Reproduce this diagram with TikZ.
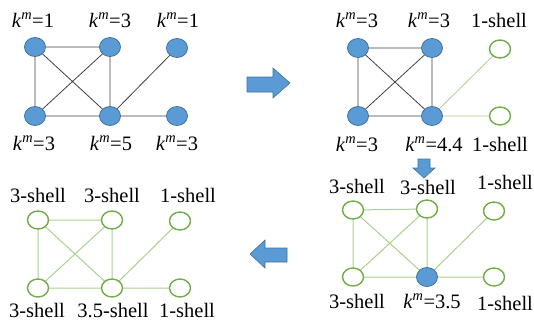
\documentclass[tikz,border=0pt]{standalone}
\usepackage{fontspec}
\usetikzlibrary{shapes.geometric}
\setmainfont{Liberation Serif}
\definecolor{nblue}{HTML}{5B9BD5}
\definecolor{nbluedark}{HTML}{41719C}
\definecolor{ngreen}{HTML}{70AD47}
\definecolor{egreen}{HTML}{A9D18E}
\definecolor{egray}{HTML}{404040}
\newcommand{\km}[1]{\textit{k}\textsuperscript{\textit{m}}=#1}
\begin{document}
\begin{tikzpicture}[x=1pt,y=-1pt,
  bnode/.style={ellipse,minimum width=21pt,minimum height=19pt,inner sep=0pt,fill=nblue,draw=nbluedark,line width=0.8pt},
  gnode/.style={ellipse,minimum width=21pt,minimum height=18pt,inner sep=0pt,fill=white,draw=ngreen,line width=1.4pt},
  lab/.style={font=\fontsize{20.5}{20.5}\selectfont,inner sep=0pt,anchor=base},
  gedge/.style={draw=egray,line width=0.8pt},
  ledge/.style={draw=egreen,line width=1pt},
  bigarrow/.style={fill=nblue,draw=nbluedark,line width=0.6pt}]
\useasboundingbox (0,0) rectangle (534,324);
% ---- Panel 1
\begin{scope}
\coordinate (a1) at (35,47); \coordinate (a2) at (110,47); \coordinate (a3) at (177,48);
\coordinate (a4) at (35,116); \coordinate (a5) at (110,116); \coordinate (a6) at (177,116);
\draw[gedge] (a1)--(a2) (a1)--(a4) (a1)--(a5) (a2)--(a4) (a2)--(a5) (a4)--(a5) (a5)--(a3) (a5)--(a6);
\node[bnode] (p1a) at (a1) {}; \node[bnode] (p1b) at (a2) {}; \node[bnode] (p1c) at (a3) {};
\node[bnode] (p1d) at (a4) {}; \node[bnode] (p1e) at (a5) {}; \node[bnode] (p1f) at (a6) {};
\node[lab] (l1a) at (33,27) {\km{1}};
\node[lab] (l1b) at (110,27) {\km{3}};
\node[lab] (l1c) at (178,27) {\km{1}};
\node[lab] (l1d) at (34,150) {\km{3}};
\node[lab] (l1e) at (111,150) {\km{5}};
\node[lab] (l1f) at (177,150) {\km{3}};
\end{scope}
% ---- Panel 2
\begin{scope}
\coordinate (b1) at (358,48); \coordinate (b2) at (432,48); \coordinate (b3) at (500,49);
\coordinate (b4) at (358,116); \coordinate (b5) at (432,116); \coordinate (b6) at (500,116);
\draw[gedge] (b1)--(b2) (b1)--(b4) (b1)--(b5) (b2)--(b4) (b2)--(b5) (b4)--(b5);
\draw[ledge,line width=0.8pt] (b5)--(b3) (b5)--(b6);
\node[bnode] (p2a) at (b1) {}; \node[bnode] (p2b) at (b2) {}; \node[gnode] (p2c) at (b3) {};
\node[bnode] (p2d) at (b4) {}; \node[bnode] (p2e) at (b5) {}; \node[gnode] (p2f) at (b6) {};
\node[lab] (l2a) at (357,27) {\km{3}};
\node[lab] (l2b) at (429,27) {\km{3}};
\node[lab] (l2c) at (499,27) {1-shell};
\node[lab] (l2d) at (357,151) {\km{3}};
\node[lab] (l2e) at (434,151) {\km{4.4}};
\node[lab] (l2f) at (500,151) {1-shell};
\end{scope}
% ---- Panel 3
\begin{scope}
\coordinate (c1) at (353,210); \coordinate (c2) at (427,209); \coordinate (c3) at (494,211);
\coordinate (c4) at (353,277); \coordinate (c5) at (427,277); \coordinate (c6) at (494,277);
\draw[ledge] (c1)--(c2) (c1)--(c4) (c1)--(c5) (c2)--(c4) (c2)--(c5) (c4)--(c5) (c5)--(c3) (c5)--(c6);
\node[gnode] (p3a) at (c1) {}; \node[gnode] (p3b) at (c2) {}; \node[gnode] (p3c) at (c3) {};
\node[gnode] (p3d) at (c4) {}; \node[bnode] (p3e) at (c5) {}; \node[gnode] (p3f) at (c6) {};
\node[lab] (l3a) at (357,193) {3-shell};
\node[lab] (l3b) at (428,194) {3-shell};
\node[lab] (l3c) at (505,189) {1-shell};
\node[lab] (l3d) at (357,308) {3-shell};
\node[lab] (l3e) at (432,308) {\km{3.5}};
\node[lab] (l3f) at (505,310) {1-shell};
\end{scope}
% ---- Panel 4
\begin{scope}
\coordinate (d1) at (38,220); \coordinate (d2) at (112,220); \coordinate (d3) at (180,221);
\coordinate (d4) at (38,288); \coordinate (d5) at (112,288); \coordinate (d6) at (180,288);
\draw[ledge] (d1)--(d2) (d1)--(d4) (d1)--(d5) (d2)--(d4) (d2)--(d5) (d4)--(d5) (d5)--(d3) (d5)--(d6);
\node[gnode] (p4a) at (d1) {}; \node[gnode] (p4b) at (d2) {}; \node[gnode] (p4c) at (d3) {};
\node[gnode] (p4d) at (d4) {}; \node[gnode] (p4e) at (d5) {}; \node[gnode] (p4f) at (d6) {};
\node[lab] (l4a) at (38,202) {3-shell};
\node[lab] (l4b) at (112,202) {3-shell};
\node[lab] (l4c) at (188,202) {1-shell};
\node[lab] (l4d) at (37,317) {3-shell};
\node[lab] (l4e) at (113,317) {3.5-shell};
\node[lab] (l4f) at (187,317) {1-shell};
\end{scope}
% ---- block arrows
\draw[bigarrow] (247,77) -- (273,77) -- (273,68) -- (290,83) -- (273,98) -- (273,92) -- (247,92) -- cycle;
\draw[bigarrow] (287,248) -- (265,248) -- (265,240) -- (250,254) -- (265,268) -- (265,262) -- (287,262) -- cycle;
\draw[bigarrow] (418,159) -- (430,159) -- (430,168) -- (435,168) -- (424,178) -- (413,168) -- (418,168) -- cycle;
\end{tikzpicture}
\end{document}
